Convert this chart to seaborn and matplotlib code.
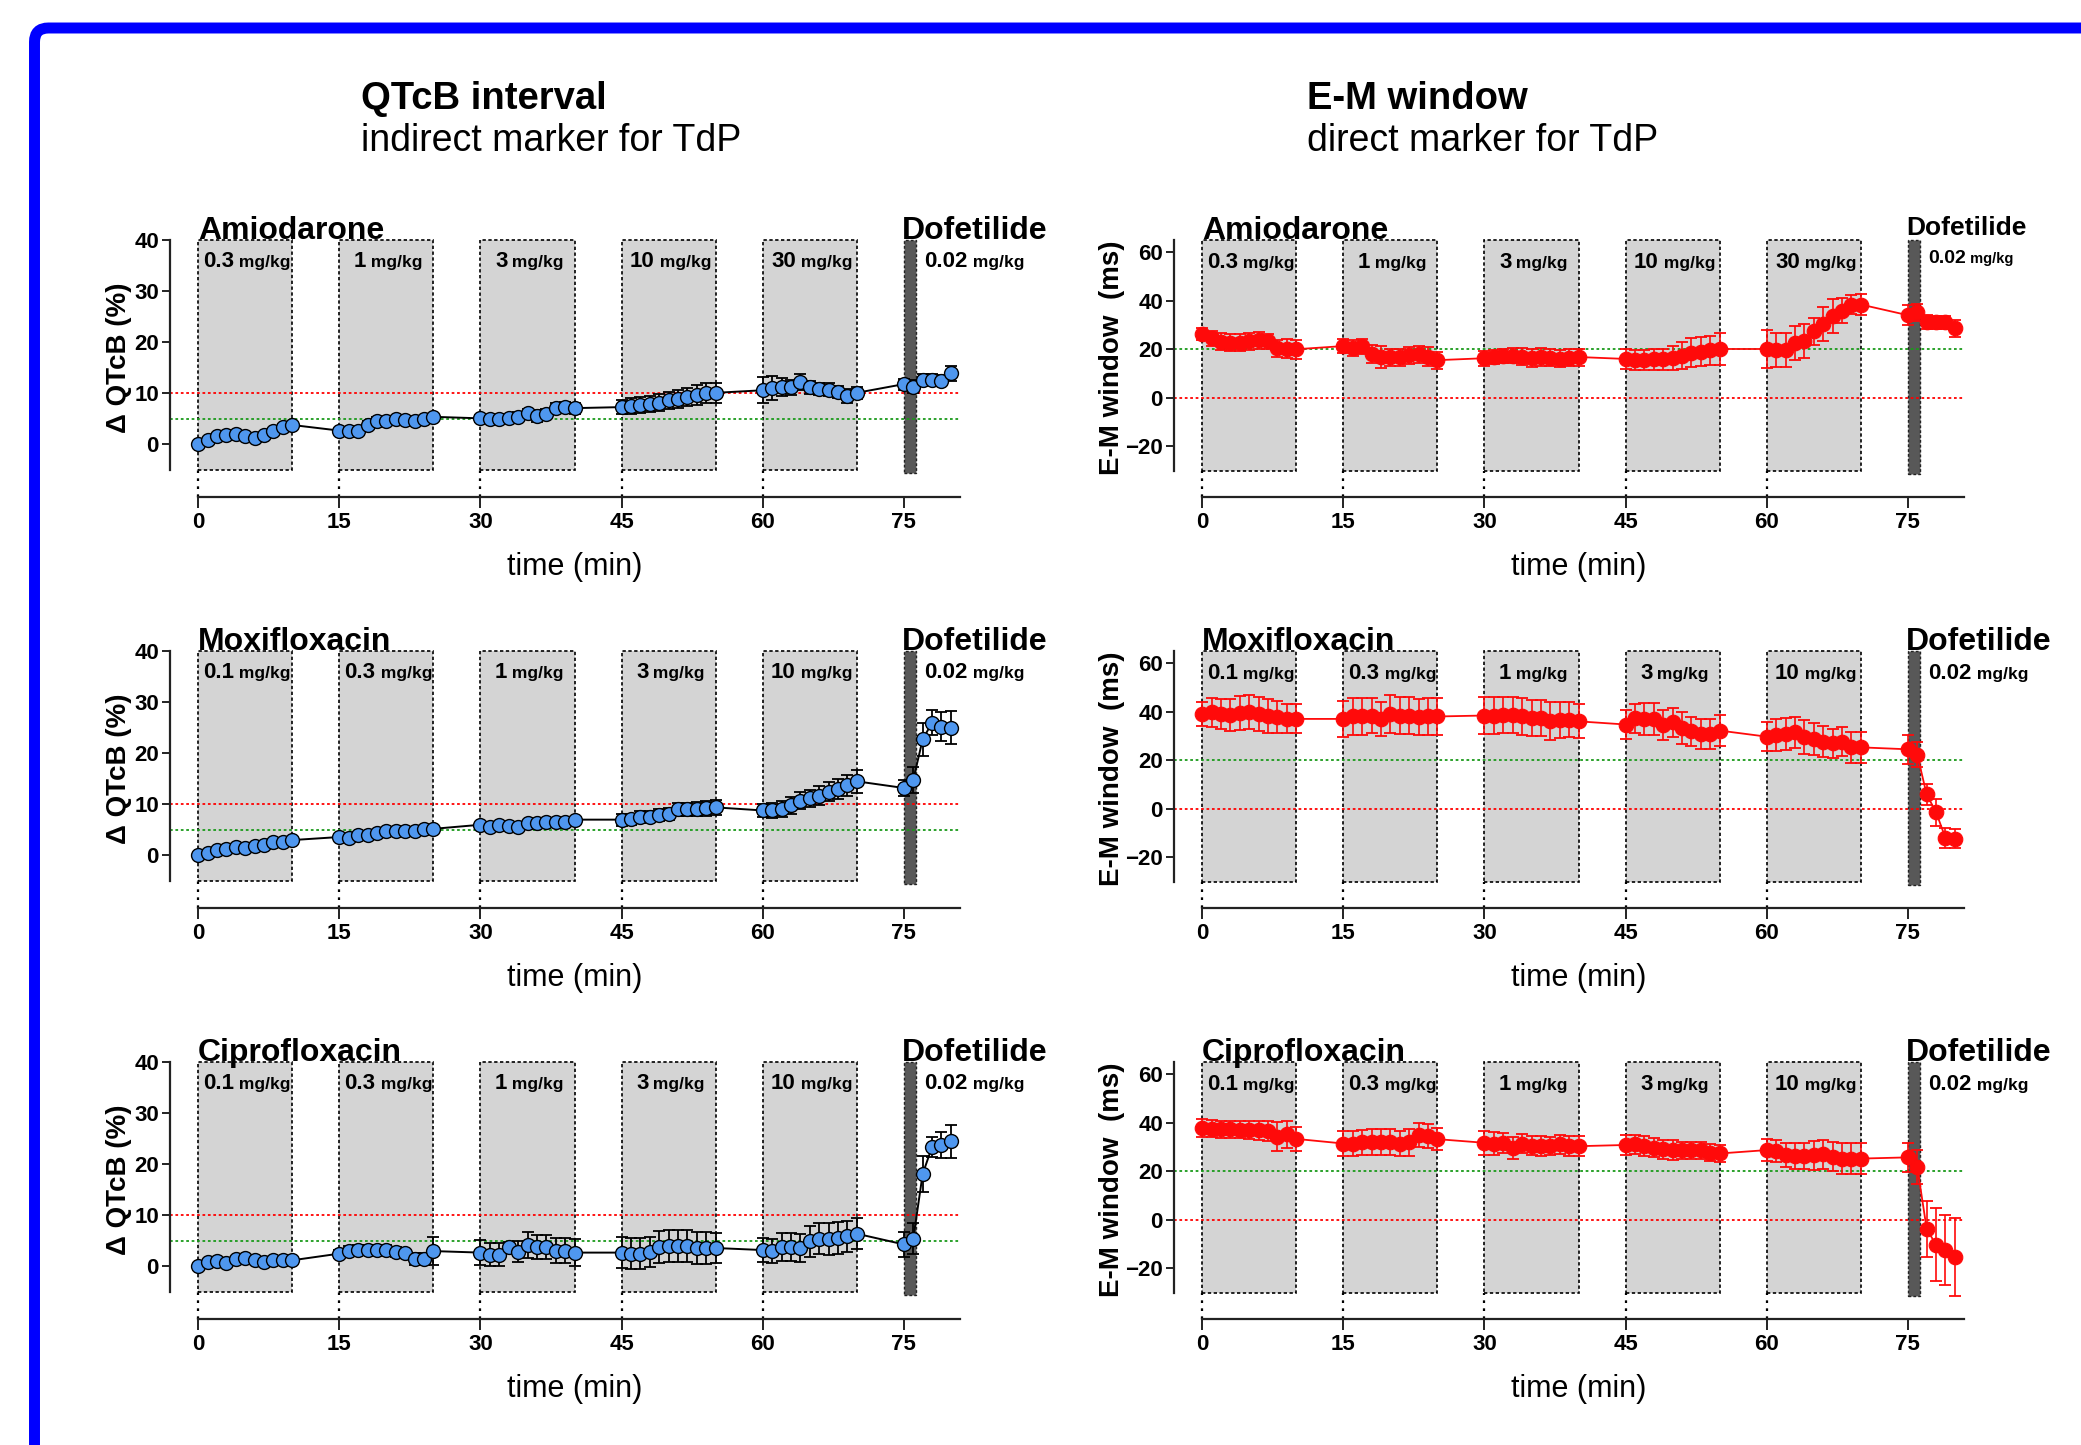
import matplotlib
matplotlib.use("Agg")
import matplotlib.pyplot as plt
import seaborn as sns
from matplotlib import transforms
from matplotlib.patches import Rectangle, FancyBboxPatch

sns.set_style("ticks")
plt.rcParams["font.family"] = ["Liberation Sans", "DejaVu Sans"]
plt.rcParams.update({"text.color": "black", "axes.labelcolor": "black",
                     "xtick.color": "black", "ytick.color": "black",
                     "axes.edgecolor": "black"})

# ---------------------------------------------------------------- data
# sampling times (min): 5 infusion periods of 0-10 min every 15 min + dofetilide
time_min = [0, 1, 2, 3, 4, 5, 6, 7, 8, 9, 10,
            15, 16, 17, 18, 19, 20, 21, 22, 23, 24, 25,
            30, 31, 32, 33, 34, 35, 36, 37, 38, 39, 40,
            45, 46, 47, 48, 49, 50, 51, 52, 53, 54, 55,
            60, 61, 62, 63, 64, 65, 66, 67, 68, 69, 70,
            75, 76, 77, 78, 79, 80]

period_starts = [0, 15, 30, 45, 60]
amio_doses = ["0.3", "1", "3", "10", "30"]
fluoro_doses = ["0.1", "0.3", "1", "3", "10"]
dofetilide_dose = "0.02"
drugs = ["Amiodarone", "Moxifloxacin", "Ciprofloxacin"]

# delta QTcB (%) mean and SEM
qtcb_amio = [0.0, 0.8, 1.7, 1.9, 2.1, 1.7, 1.2, 1.8, 2.6, 3.5, 3.8,
             2.7, 2.7, 2.7, 3.8, 4.5, 4.6, 4.9, 4.8, 4.6, 4.9, 5.4,
             5.1, 5.0, 4.9, 5.1, 5.4, 6.1, 5.6, 6.0, 7.2, 7.3, 7.1,
             7.3, 7.5, 7.7, 7.9, 8.2, 8.6, 8.9, 9.3, 9.7, 10.1, 10.1,
             10.6, 11.0, 11.2, 11.2, 12.2, 11.2, 10.8, 10.7, 10.3, 9.5, 10.1,
             11.8, 11.3, 12.7, 12.7, 12.5, 13.9]
qtcb_amio_sem = [0.3, 0.3, 0.3, 0.3, 0.3, 0.3, 0.3, 0.3, 0.3, 0.4, 0.4,
                 0.4, 0.4, 0.5, 0.7, 0.8, 0.8, 0.7, 0.7, 0.6, 0.6, 0.6,
                 0.7, 0.7, 0.8, 0.8, 0.9, 0.9, 1.2, 1.0, 1.0, 1.0, 1.1,
                 1.4, 1.5, 1.5, 1.6, 1.6, 1.7, 1.7, 1.8, 1.9, 2.0, 2.0,
                 2.5, 2.3, 1.8, 1.5, 1.6, 1.3, 1.2, 1.3, 1.2, 1.3, 1.2,
                 1.1, 1.3, 1.0, 1.0, 1.0, 1.5]

qtcb_moxi = [0.0, 0.4, 1.0, 1.2, 1.6, 1.4, 1.9, 2.1, 2.6, 2.7, 3.0,
             3.6, 3.4, 4.0, 4.0, 4.3, 4.7, 4.7, 4.7, 4.7, 5.1, 5.2,
             6.0, 5.6, 6.0, 5.7, 5.5, 6.3, 6.3, 6.5, 6.5, 6.5, 7.0,
             7.0, 7.1, 7.5, 7.6, 7.9, 8.1, 9.0, 9.0, 9.1, 9.2, 9.4,
             8.8, 8.8, 9.1, 9.8, 10.7, 11.2, 11.7, 12.5, 13.0, 13.7, 14.5,
             13.2, 14.8, 22.7, 26.0, 25.2, 25.0]
qtcb_moxi_sem = [0.2, 0.2, 0.2, 0.2, 0.2, 0.2, 0.2, 0.2, 0.2, 0.2, 0.2,
                 0.3, 0.3, 0.3, 0.3, 0.3, 0.3, 0.3, 0.3, 0.3, 0.3, 0.3,
                 0.4, 0.4, 0.4, 0.4, 0.4, 0.4, 0.4, 0.4, 0.4, 0.4, 0.4,
                 1.2, 1.1, 1.1, 1.1, 1.1, 1.1, 1.3, 1.3, 1.4, 1.4, 1.5,
                 1.3, 1.4, 1.5, 1.6, 1.7, 1.7, 1.8, 1.8, 1.9, 2.0, 2.2,
                 1.5, 2.5, 3.2, 2.5, 2.8, 3.2]

qtcb_cipro = [0.0, 0.9, 1.0, 0.7, 1.4, 1.7, 1.2, 0.9, 1.2, 1.2, 1.2,
              2.5, 3.1, 3.3, 3.3, 3.3, 3.3, 2.8, 2.6, 1.4, 1.5, 3.0,
              2.7, 2.3, 2.3, 3.8, 2.9, 4.2, 3.8, 3.8, 3.1, 3.1, 2.7,
              2.7, 2.5, 2.5, 2.8, 3.8, 4.0, 4.0, 4.0, 3.6, 3.6, 3.6,
              3.2, 3.0, 3.8, 3.8, 3.6, 4.9, 5.4, 5.4, 5.6, 5.9, 6.4,
              4.3, 5.4, 18.1, 23.4, 23.8, 24.5]
qtcb_cipro_sem = [0.2, 0.2, 0.2, 0.2, 0.2, 0.2, 0.2, 0.2, 0.2, 0.2, 0.2,
                  0.8, 0.9, 0.9, 0.9, 0.9, 0.9, 0.9, 0.9, 1.2, 1.2, 2.8,
                  2.5, 2.3, 2.3, 1.0, 2.0, 2.5, 2.3, 2.3, 2.5, 2.5, 2.7,
                  3.0, 3.0, 3.0, 3.0, 3.1, 3.2, 3.2, 3.2, 3.1, 3.1, 2.9,
                  2.3, 2.4, 2.8, 2.8, 2.8, 3.0, 3.0, 3.1, 3.1, 3.0, 3.0,
                  2.5, 3.0, 3.5, 2.0, 2.5, 3.2]

# E-M window (ms) mean and SEM
em_amio = [26.3, 24.5, 23.0, 22.6, 22.6, 23.3, 23.7, 23.3, 20.5, 20.2, 20.0,
           21.3, 20.5, 21.2, 18.0, 16.7, 16.8, 16.8, 17.6, 18.0, 17.0, 15.5,
           16.3, 16.8, 17.2, 17.4, 17.0, 16.3, 16.8, 16.5, 16.1, 16.4, 16.8,
           16.0, 15.6, 15.6, 15.8, 15.9, 16.5, 17.4, 18.5, 19.0, 19.5, 20.1,
           20.1, 19.5, 19.6, 22.5, 23.3, 27.4, 30.4, 33.8, 35.9, 38.4, 38.4,
           34.0, 35.2, 31.2, 31.0, 31.0, 28.6]
em_amio_sem = [2.5, 3.0, 3.5, 3.5, 3.5, 3.5, 3.5, 3.0, 3.5, 4.0, 4.0,
               3.0, 3.3, 3.0, 3.8, 4.5, 3.5, 3.5, 3.5, 3.5, 3.8, 3.5,
               3.0, 3.0, 3.0, 3.2, 3.5, 3.8, 3.6, 3.5, 3.5, 3.5, 3.5,
               4.0, 4.0, 4.0, 4.2, 4.3, 5.0, 5.5, 6.0, 6.0, 6.0, 6.5,
               7.7, 7.0, 7.0, 7.0, 7.0, 5.5, 7.0, 7.0, 5.3, 4.0, 4.5,
               4.0, 3.5, 2.8, 2.8, 2.5, 3.5]

em_moxi = [39.0, 39.7, 39.0, 38.6, 39.3, 39.7, 39.0, 38.2, 37.9, 37.0, 37.0,
           37.0, 38.0, 38.0, 38.4, 37.0, 39.0, 38.4, 38.4, 37.7, 38.0, 38.0,
           38.4, 38.4, 38.6, 38.6, 38.0, 37.4, 37.4, 36.3, 36.6, 36.6, 36.0,
           34.7, 37.3, 37.0, 37.0, 34.5, 35.6, 33.2, 31.9, 30.8, 30.8, 32.2,
           29.7, 30.4, 30.7, 31.5, 29.5, 28.8, 27.7, 27.0, 27.7, 25.3, 25.3,
           24.5, 22.3, 5.9, -1.4, -12.0, -12.3]
em_moxi_sem = [5.0, 6.0, 6.0, 6.5, 7.0, 7.0, 7.0, 6.8, 6.5, 6.0, 6.0,
               7.5, 7.5, 7.5, 7.0, 7.0, 7.8, 7.5, 7.5, 7.5, 7.5, 7.5,
               7.5, 7.5, 7.3, 7.5, 7.5, 7.5, 7.5, 7.8, 7.5, 7.2, 7.0,
               6.0, 6.0, 6.5, 6.5, 6.0, 6.0, 6.5, 6.0, 6.0, 6.0, 6.5,
               6.0, 6.5, 6.5, 6.3, 7.0, 6.5, 6.5, 6.0, 6.0, 6.5, 6.5,
               6.0, 5.0, 4.5, 5.5, 4.0, 4.0]

em_cipro = [37.7, 37.5, 37.2, 37.2, 37.0, 37.0, 36.8, 36.5, 34.2, 35.2, 33.3,
            31.4, 31.4, 31.9, 32.1, 31.9, 32.1, 31.4, 31.9, 34.9, 34.6, 33.2,
            31.7, 31.4, 31.7, 29.4, 31.4, 30.5, 30.3, 30.3, 31.0, 30.3, 30.3,
            30.8, 31.0, 30.3, 29.7, 29.0, 28.7, 28.7, 28.7, 28.7, 27.7, 27.3,
            28.7, 28.3, 26.6, 26.3, 26.3, 26.6, 26.9, 25.9, 25.2, 25.2, 25.2,
            25.7, 21.8, -3.7, -10.3, -12.4, -15.2]
em_cipro_sem = [3.8, 3.5, 3.5, 3.5, 3.5, 3.8, 4.0, 4.0, 6.0, 5.5, 5.0,
                5.0, 5.0, 5.2, 5.3, 5.3, 5.3, 5.2, 5.5, 5.0, 5.0, 4.5,
                5.0, 4.8, 4.0, 4.5, 4.0, 4.0, 4.0, 3.8, 4.0, 4.0, 4.0,
                4.0, 4.0, 4.0, 4.0, 4.0, 4.0, 3.5, 3.5, 3.5, 3.5, 3.5,
                4.5, 4.5, 5.0, 5.5, 5.5, 6.0, 6.0, 6.0, 6.5, 6.5, 6.5,
                6.0, 7.0, 11.5, 15.0, 14.5, 16.0]

qtcb_series = [(qtcb_amio, qtcb_amio_sem), (qtcb_moxi, qtcb_moxi_sem),
               (qtcb_cipro, qtcb_cipro_sem)]
em_series = [(em_amio, em_amio_sem), (em_moxi, em_moxi_sem),
             (em_cipro, em_cipro_sem)]
dose_sets = [amio_doses, fluoro_doses, fluoro_doses]

# ---------------------------------------------------------------- figure
W, H, DPI = 2081, 1445, 100
fig = plt.figure(figsize=(W / DPI, H / DPI), dpi=DPI)
fig.patch.set_facecolor("white")

BLUE_FILL = "#4f97ef"
RED = "#ff0a0a"
BOX_GREY = "#d4d4d4"
BAR_GREY = "#585858"

# frame around the slide
frame = FancyBboxPatch((34.5, -60), W + 100, H + 60 - 28,
                       boxstyle="round,pad=0,rounding_size=14",
                       fc="none", ec="#0000ff", lw=7.9,
                       transform=transforms.IdentityTransform())
fig.add_artist(frame)

# column titles
fig.text(361 / W, 1 - 109 / H, "QTcB interval", fontsize=27.5, weight="bold",
         va="baseline", ha="left")
fig.text(361 / W, 1 - 151 / H, "indirect marker for TdP", fontsize=27,
         va="baseline", ha="left")
fig.text(1307 / W, 1 - 109 / H, "E-M window", fontsize=27.5, weight="bold",
         va="baseline", ha="left")
fig.text(1307 / W, 1 - 151 / H, "direct marker for TdP", fontsize=27,
         va="baseline", ha="left")

ROW_TOP = 235
ROW_STEP = 411
AX_H = 262
AX_W = 795
COL_LEFT = [170, 1174]
XLIM = (-3, 81.5)

dose_texts = []


def add_dose(ax, x, y, num, s1, s2, centered):
    t1 = ax.text(x, y, num, fontsize=s1, weight="bold", ha="left",
                 va="baseline", zorder=6)
    t2 = ax.text(x, y, " mg/kg", fontsize=s2, weight="bold", ha="left",
                 va="baseline", zorder=6)
    dose_texts.append((ax, t1, t2, centered))


def style_axes(ax, lo, hi, ybottom, ytop, yticks):
    ax.set_xlim(*XLIM)
    ax.set_ylim(ybottom, ytop)
    for side in ("top", "right"):
        ax.spines[side].set_visible(False)
    for side in ("left", "bottom"):
        ax.spines[side].set_linewidth(1.6)
        ax.spines[side].set_color("#222222")
    ax.spines["left"].set_bounds(lo, hi)
    ax.spines["bottom"].set_bounds(0, 81)
    ax.set_xticks([0, 15, 30, 45, 60, 75])
    ax.set_yticks(yticks)
    ax.tick_params(axis="x", direction="out", length=8, width=1.4,
                   labelsize=16, pad=3, color="#222222")
    ax.tick_params(axis="y", direction="out", length=6, width=1.4,
                   labelsize=16, pad=2, color="#222222")
    for lab in ax.get_xticklabels() + ax.get_yticklabels():
        lab.set_fontweight("bold")
    ax.set_xlabel("")
    ax.set_ylabel("")
    ax.patch.set_alpha(0)


def draw_periods(ax, lo, hi, ybottom, doses, dose_y, dofe_small):
    for start, dose in zip(period_starts, doses):
        ax.add_patch(Rectangle((start, lo), 10, hi - lo, fc=BOX_GREY, ec="k",
                               lw=1.2, ls=(0, (2, 1.5)), zorder=1))
        ax.plot([start, start], [ybottom, lo], color="k", lw=1.6,
                ls=(0, (1.2, 2.4)), zorder=1, clip_on=False)
        add_dose(ax, start + 5.2, dose_y, dose, 16, 12.5, True)
    span = hi - lo
    ax.add_patch(Rectangle((75, lo - 0.012 * span), 1.25, span * 1.012,
                           fc=BAR_GREY, ec="#222222", lw=1.0,
                           ls=(0, (2, 1.5)), zorder=1))
    if dofe_small:
        add_dose(ax, 77.2, dose_y + 0.02 * span, dofetilide_dose, 14, 10.5,
                 False)
    else:
        add_dose(ax, 77.2, dose_y, dofetilide_dose, 16, 12.5, False)


for row in range(3):
    top = ROW_TOP + ROW_STEP * row
    drug = drugs[row]
    doses = dose_sets[row]

    # ---- left column: delta QTcB
    ax = fig.add_axes([COL_LEFT[0] / W, 1 - (top + AX_H) / H, AX_W / W, AX_H / H])
    lo, hi, yb, yt = -5, 40, -10.3, 41
    style_axes(ax, lo, hi, yb, yt, [0, 10, 20, 30, 40])
    draw_periods(ax, lo, hi, yb, doses, 34.8, False)
    ax.plot([-3, 81], [10, 10], color="red", lw=1.3, ls=(0, (1.5, 1.5)), zorder=2)
    ax.plot([-3, 81], [5, 5], color="#1a9a1a", lw=1.3, ls=(0, (1.5, 1.5)), zorder=2)
    y, err = qtcb_series[row]
    ax.errorbar(time_min, y, yerr=err, fmt="none", ecolor="k", elinewidth=1.3,
                capsize=4.6, capthick=1.3, zorder=4)
    sns.lineplot(x=time_min, y=y, ax=ax, color="k", lw=1.4, marker="o",
                 markersize=10, markerfacecolor=BLUE_FILL,
                 markeredgecolor="k", markeredgewidth=1.0, estimator=None,
                 sort=False, zorder=5)
    ax.text(0, hi + 0.2, drug, fontsize=23, weight="bold", ha="left",
            va="baseline", zorder=6)
    ax.text(74.8, hi + 0.2, "Dofetilide", fontsize=23, weight="bold",
            ha="left", va="baseline", zorder=6)
    style_axes(ax, lo, hi, yb, yt, [0, 10, 20, 30, 40])
    ax.text(40, -0.268, "time (min)", fontsize=22, ha="center", va="center",
            transform=transforms.blended_transform_factory(ax.transData,
                                                           ax.transAxes))
    fig.text(119 / W, 1 - (top + 123) / H, "\u0394 QTcB (%)", fontsize=20,
             weight="bold", rotation=90, ha="center", va="center")

    # ---- right column: E-M window
    ax = fig.add_axes([COL_LEFT[1] / W, 1 - (top + AX_H) / H, AX_W / W, AX_H / H])
    lo, hi, yb, yt = -30, 65, -40.8, 67
    style_axes(ax, lo, hi, yb, yt, [-20, 0, 20, 40, 60])
    draw_periods(ax, lo, hi, yb, doses, 53.6, row == 0)
    ax.plot([-3, 81], [0, 0], color="red", lw=1.3, ls=(0, (1.5, 1.5)), zorder=2)
    ax.plot([-3, 81], [20, 20], color="#1a9a1a", lw=1.3, ls=(0, (1.5, 1.5)), zorder=2)
    y, err = em_series[row]
    ax.errorbar(time_min, y, yerr=err, fmt="none", ecolor=RED, elinewidth=1.2,
                capsize=4.6, capthick=1.3, zorder=4)
    sns.lineplot(x=time_min, y=y, ax=ax, color=RED, lw=1.3, marker="o",
                 markersize=10.5, markerfacecolor=RED, markeredgecolor=RED,
                 markeredgewidth=0.8, estimator=None, sort=False, zorder=5)
    ax.text(0, hi + 0.4, drug, fontsize=23, weight="bold", ha="left",
            va="baseline", zorder=6)
    ax.text(74.8, hi + (2.0 if row == 0 else 0.4), "Dofetilide",
            fontsize=19 if row == 0 else 23, weight="bold", ha="left",
            va="baseline", zorder=6)
    style_axes(ax, lo, hi, yb, yt, [-20, 0, 20, 40, 60])
    ax.text(40, -0.268, "time (min)", fontsize=22, ha="center", va="center",
            transform=transforms.blended_transform_factory(ax.transData,
                                                           ax.transAxes))
    fig.text(1112 / W, 1 - (top + 123) / H, "E-M window  (ms)", fontsize=20,
             weight="bold", rotation=90, ha="center", va="center")

# lay the two-size dose labels out side by side
fig.canvas.draw()
renderer = fig.canvas.get_renderer()
for ax, t1, t2, centered in dose_texts:
    w1 = t1.get_window_extent(renderer).width
    w2 = t2.get_window_extent(renderer).width
    shift = -(w1 + w2) / 2 if centered else 0.0
    t1.set_transform(transforms.offset_copy(ax.transData, fig=fig, x=shift,
                                            y=0, units="dots"))
    t2.set_transform(transforms.offset_copy(ax.transData, fig=fig,
                                            x=shift + w1, y=0, units="dots"))

fig.savefig("out.png", dpi=DPI, facecolor="white")
